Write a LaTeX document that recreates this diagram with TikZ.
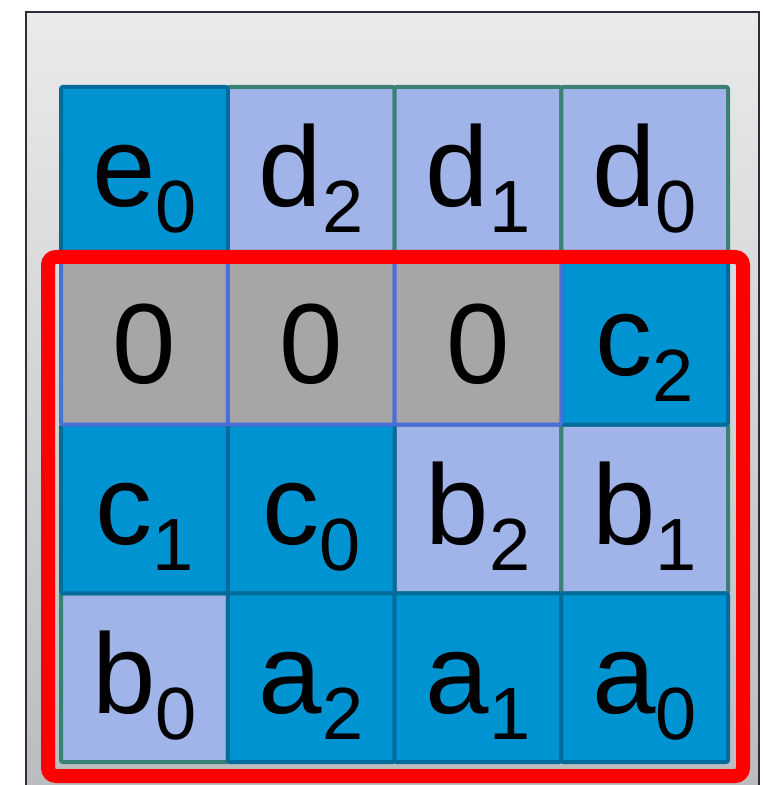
\documentclass[tikz,border=0pt]{standalone}
\usepackage{fontspec}
\setmainfont{Liberation Sans}
\usetikzlibrary{positioning}
\definecolor{dkfill}{HTML}{0093D2}
\definecolor{dkline}{HTML}{006C9C}
\definecolor{ltfill}{HTML}{A0B4EA}
\definecolor{ltline}{HTML}{3A8073}
\definecolor{grfill}{HTML}{A6A6A6}
\definecolor{grline}{HTML}{4A6FD8}
\definecolor{paneltop}{HTML}{EAEAEB}
\definecolor{panelbot}{HTML}{B9BBBE}
\definecolor{panelline}{HTML}{2B2F3B}
\newcommand{\lsub}[2]{#1\raisebox{-13pt}{\fontsize{37}{40}\selectfont #2}}
\tikzset{
  cell/.style={draw,rectangle,line width=2pt,rounded corners=1pt,inner sep=0pt,
    minimum width=83.375pt,minimum height=84.375pt,
    font=\fontsize{57}{60}\selectfont,text height=40pt,text depth=4.5pt},
  dkcell/.style={cell,fill=dkfill,draw=dkline},
  ltcell/.style={cell,fill=ltfill,draw=ltline},
  grcell/.style={cell,fill=grfill,draw=grline,text height=42.9pt,text depth=0pt},
  redbox/.style={draw=red,line width=7pt,rounded corners=4pt}
}
\begin{document}
\begin{tikzpicture}[x=0.5pt,y=-0.5pt]
  \useasboundingbox (0,0) rectangle (762,785);
  \clip (0,0) rectangle (762,785);
  % panel
  \fill[top color=paneltop,bottom color=panelbot] (26,12) rectangle (759,800);
  \draw[panelline,line width=1pt] (26,820) -- (26,12) -- (759,12) -- (759,820);

  % light cells
  \foreach \c/\r/\l/\s in {2/1/d/2, 3/1/d/1, 4/1/d/0, 3/3/b/2, 4/3/b/1, 1/4/b/0}
    \node[ltcell] (c\c\r) at ({61+166.75*(\c-0.5)},{87+168.75*(\r-0.5)}) {\lsub{\l}{\s}};
  % dark cells
  \foreach \c/\r/\l/\s in {1/1/e/0, 4/2/c/2, 1/3/c/1, 2/3/c/0, 2/4/a/2, 3/4/a/1, 4/4/a/0}
    \node[dkcell] (c\c\r) at ({61+166.75*(\c-0.5)},{87+168.75*(\r-0.5)}) {\lsub{\l}{\s}};
  % zero cells
  \foreach \c in {1,2,3}
    \node[grcell] (c\c2) at ({61+166.75*(\c-0.5)},{87+168.75*1.5}) {0};

  % highlight
  \draw[redbox] (48,257) rectangle (743,776);
\end{tikzpicture}
\end{document}
